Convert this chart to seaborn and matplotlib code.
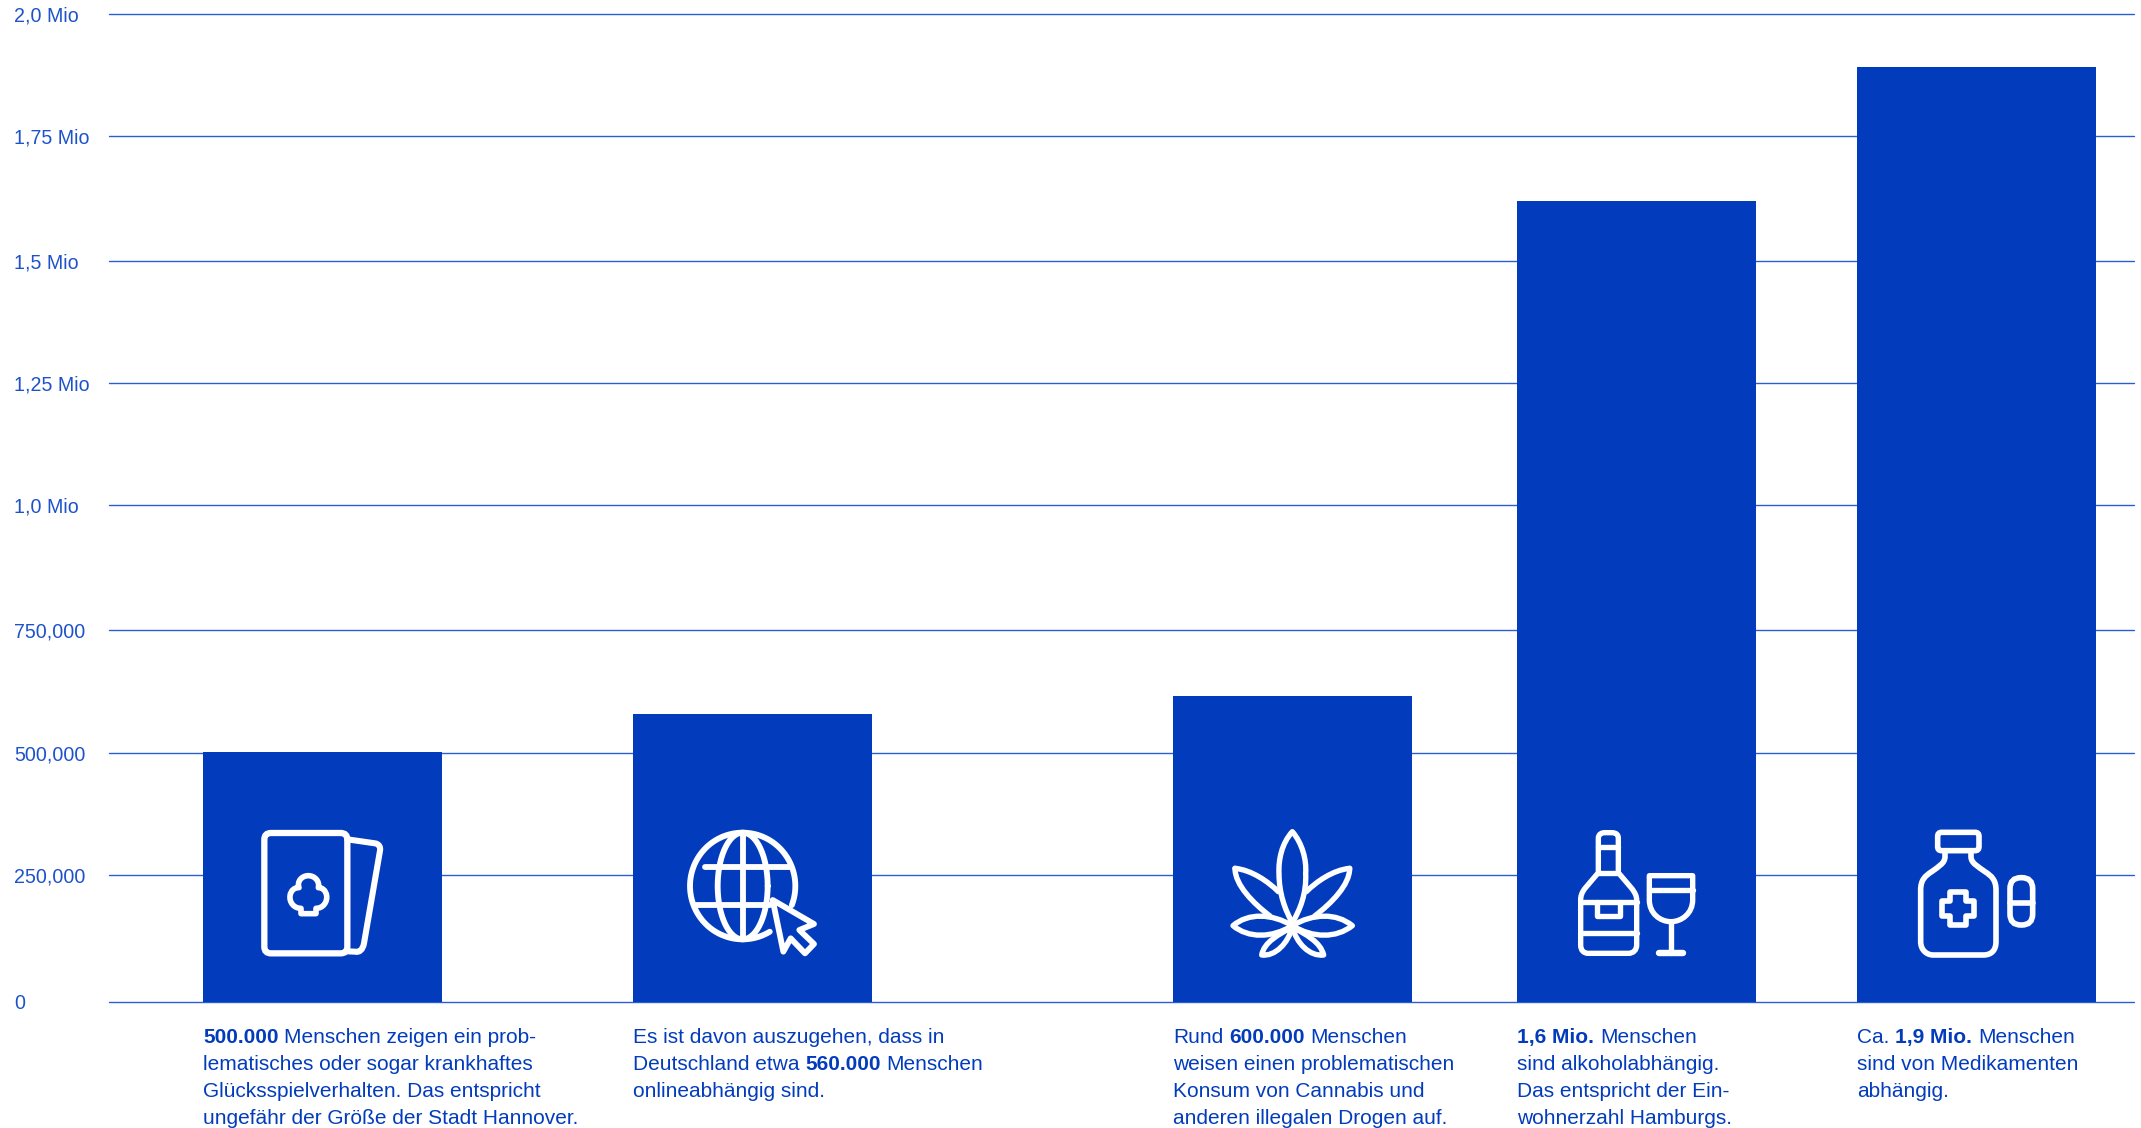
import re
import numpy as np
import matplotlib
matplotlib.use("Agg")
import matplotlib.pyplot as plt
from matplotlib.patches import PathPatch, FancyBboxPatch
from matplotlib.path import Path
import seaborn as sns

# Abhängige Personen in Deutschland, je Suchtform
categories = ["Glücksspiel", "Online", "Cannabis", "Alkohol", "Medikamente"]
values = [505800, 582700, 619000, 1622000, 1894000]

tick_values = [0, 255800, 503700, 753100, 1006200, 1252600, 1500900, 1752900, 2000000]
tick_labels = ["0", "250,000", "500,000", "750,000", "1,0 Mio", "1,25 Mio", "1,5 Mio", "1,75 Mio", "2,0 Mio"]

captions = [
    ["**500.000** Menschen zeigen ein prob-", "lematisches oder sogar krankhaftes",
     "Glücksspielverhalten. Das entspricht", "ungefähr der Größe der Stadt Hannover."],
    ["Es ist davon auszugehen, dass in", "Deutschland etwa **560.000** Menschen", "onlineabhängig sind."],
    ["Rund **600.000** Menschen", "weisen einen problematischen", "Konsum von Cannabis und",
     "anderen illegalen Drogen auf."],
    ["**1,6 Mio.** Menschen", "sind alkoholabhängig.", "Das entspricht der Ein-", "wohnerzahl Hamburgs."],
    ["Ca. **1,9 Mio.** Menschen", "sind von Medikamenten", "abhängig."],
]

# Layout in Pixeln der Ausgabedatei
FIG_W, FIG_H = 2141, 1128
AX_LEFT, AX_RIGHT, AX_TOP, AX_BOTTOM = 109, 2134, 14.3, 1001.7
bar_centres = [322.5, 752.5, 1292.5, 1636.8, 1976.8]
BAR_WIDTH = 239
BLUE = "#023cbd"
GRID = "#2a5cd2"
TICK_COLOR = "#1d52cb"
FONT = "Liberation Sans"
STROKE = 0.84  # Punkt je Pixel-Einheit der Piktogrammlinien

sns.set_theme(style="white")
plt.rcParams["font.family"] = [FONT, "DejaVu Sans"]

fig = plt.figure(figsize=(FIG_W / 100, FIG_H / 100), dpi=100, facecolor="white")
ax = fig.add_axes([AX_LEFT / FIG_W, 1 - AX_BOTTOM / FIG_H,
                   (AX_RIGHT - AX_LEFT) / FIG_W, (AX_BOTTOM - AX_TOP) / FIG_H])

sns.barplot(x=bar_centres, y=values, native_scale=True, color=BLUE, saturation=1, linewidth=0,
            width=BAR_WIDTH / np.diff(bar_centres).min(), ax=ax, zorder=3)
ax.set_xlim(AX_LEFT, AX_RIGHT)
ax.set_ylim(0, 2000000)
ax.set_xticks([])
ax.set_yticks(tick_values)
ax.set_yticklabels(tick_labels, ha="left", fontsize=14.1, color=TICK_COLOR)
ax.tick_params(axis="y", length=0, pad=68.4)
ax.grid(axis="y", color=GRID, linewidth=1.0)
ax.set_axisbelow(True)
for line in ax.get_ygridlines():
    line.set_clip_on(False)
sns.despine(ax=ax, left=True, bottom=True)
ax.patch.set_alpha(0)

# Overlay in Pixelkoordinaten für Piktogramme und Bildunterschriften
ov = fig.add_axes([0, 0, 1, 1], facecolor="none")
ov.set_xlim(0, FIG_W)
ov.set_ylim(FIG_H, 0)
ov.axis("off")

M, L, C, Z = Path.MOVETO, Path.LINETO, Path.CURVE4, Path.CLOSEPOLY


def svg(ox, oy, d, lw=5.0, fill="none"):
    """Zeichnet einen Pfad aus M/L/C/Z-Befehlen; Einheiten sind Drittelpixel ab (ox, oy)."""
    verts, codes = [], []
    for cmd, pts in re.findall(r"([MLCZ])([^MLCZ]*)", d):
        nums = [float(n) for n in re.findall(r"-?\d+\.?\d*", pts)]
        xy = [(ox + nums[i] / 3, oy + nums[i + 1] / 3) for i in range(0, len(nums), 2)]
        if cmd == "Z":
            verts.append(verts[-1])
            codes.append(Z)
        else:
            verts.extend(xy)
            codes.extend({"M": [M], "L": [L] * len(xy), "C": [C] * len(xy)}[cmd] if cmd != "M" else [M])
    ov.add_patch(PathPatch(Path(verts, codes), facecolor=fill, edgecolor="white",
                           lw=lw * STROKE, joinstyle="round", capstyle="round", zorder=5))


def rrect(ox, oy, x0, y0, x1, y1, r, lw=5.0):
    ov.add_patch(FancyBboxPatch((ox + (x0 + r) / 3, oy + (y0 + r) / 3), (x1 - x0 - 2 * r) / 3, (y1 - y0 - 2 * r) / 3,
                                boxstyle=f"round,pad={r / 3},rounding_size={r / 3}",
                                facecolor="none", edgecolor="white", lw=lw * STROKE, zorder=5))


def ellipse_arc(ox, oy, cx, cy, rx, ry, t0, t1, lw=5.0):
    t = np.radians(np.linspace(t0, t1, 200))
    ov.plot(ox + (cx + rx * np.cos(t)) / 3, oy + (cy + ry * np.sin(t)) / 3, color="white",
            lw=lw * STROKE, solid_capstyle="round", zorder=5)


def icon_cards(ox, oy):
    svg(ox, oy, "M322 88 L405 100 C418 102 422 112 420 122 L372 400 C368 420 358 428 345 425 L322 424", 5.2)
    rrect(ox, oy, 73, 69, 322, 430, 20, 5.4)
    svg(ox, oy, "M183 295 L183 311 L228 311 L228 295 C250 295 262 275 260 258 C258 240 245 232 235 233 "
                "C240 215 225 197 205 197 C185 197 170 215 177 233 C165 232 152 240 150 258 C148 275 160 295 183 295 Z", 4.8)


def icon_globe(ox, oy):
    ellipse_arc(ox, oy, 218, 228, 158, 160, 59, 381)
    ellipse_arc(ox, oy, 218, 228, 75, 160, 0, 360)
    svg(ox, oy, "M218 68 L218 388")
    svg(ox, oy, "M104 170 L360 170")
    svg(ox, oy, "M74 286 L300 286")
    svg(ox, oy, "M308 270 L432 342 L388 360 L432 402 L405 430 L362 385 L340 425 Z", 5.0, fill=BLUE)


def icon_leaf(ox, oy):
    lw = 4.6
    svg(ox, oy, "M60 175 C110 180 160 215 190 245", lw)
    svg(ox, oy, "M60 175 C60 225 115 280 165 318", lw)
    svg(ox, oy, "M404 175 C354 180 304 215 274 245", lw)
    svg(ox, oy, "M404 175 C404 225 349 280 299 318", lw)
    svg(ox, oy, "M232 65 C200 100 190 150 192 190 C192 250 210 300 232 338 "
                "C255 300 275 250 272 190 C275 150 262 100 232 65 Z", lw)
    svg(ox, oy, "M54 347 C100 308 170 310 232 347 C170 385 100 385 54 347 Z", lw)
    svg(ox, oy, "M412 347 C364 308 294 310 232 347 C294 385 364 385 412 347 Z", lw)
    svg(ox, oy, "M232 350 C190 375 148 395 140 435 C180 440 220 400 232 350 Z", lw)
    svg(ox, oy, "M232 350 C274 375 316 395 326 435 C284 440 244 400 232 350 Z", lw)


def icon_drinks(ox, oy):
    lw = 4.6
    svg(ox, oy, "M115 188 L115 85 C115 72 125 68 135 68 L155 68 C170 68 175 75 175 85 L175 188 L215 235 "
                "C225 248 230 258 230 270 L230 405 C230 420 220 430 205 430 L85 430 C70 430 62 420 62 405 "
                "L62 270 C62 258 65 248 75 235 Z", lw)
    svg(ox, oy, "M115 110 L175 110", lw)
    svg(ox, oy, "M115 188 L175 188", lw)
    svg(ox, oy, "M62 275 L230 275", lw)
    svg(ox, oy, "M62 368 L230 368", lw)
    svg(ox, oy, "M112 275 L112 318 L180 318 L180 275", lw)
    svg(ox, oy, "M268 197 L398 197 L398 270 C398 310 365 335 333 335 C300 335 268 310 268 270 Z", lw)
    svg(ox, oy, "M268 240 L398 240", lw)
    svg(ox, oy, "M333 335 L333 428", lw)
    svg(ox, oy, "M298 430 L368 430", 5.5)


def icon_pills(ox, oy):
    lw = 4.8
    rrect(ox, oy, 98, 67, 222, 122, 12, lw)
    svg(ox, oy, "M120 122 L120 140 C120 160 100 170 80 185 C60 198 47 210 47 240 L47 395 C47 420 65 435 85 435 "
                "L235 435 C260 435 273 420 273 395 L273 240 C273 210 260 198 240 185 C220 170 198 160 198 140 L198 122", lw)
    svg(ox, oy, "M136 247 L182 247 L182 274 L208 274 L208 318 L182 318 L182 345 L136 345 L136 318 L110 318 "
                "L110 274 L136 274 Z", lw)
    rrect(ox, oy, 315, 203, 383, 345, 33, lw)
    svg(ox, oy, "M315 278 L383 278", lw)


icon_cards(240, 810)
icon_globe(670, 810)
icon_leaf(1215, 810)
icon_drinks(1560, 810)
icon_pills(1905, 810)

# Bildunterschriften mit fett gesetzten Zahlen, zeilenweise aus Textläufen zusammengesetzt
renderer = fig.canvas.get_renderer()
TEXT_SIZE = 15.0
LINE_GAP = 26.9
FIRST_BASELINE = 1043


def text_width(s, weight):
    probe = ov.text(0, 0, s, fontsize=TEXT_SIZE, fontweight=weight)
    w = probe.get_window_extent(renderer).width
    probe.remove()
    return w


space_w = text_width("a a", "normal") - text_width("aa", "normal")

for centre, lines in zip(bar_centres, captions):
    left = centre - BAR_WIDTH / 2
    for i, line in enumerate(lines):
        x = left
        y = FIRST_BASELINE + i * LINE_GAP
        for j, run in enumerate(re.split(r"\*\*", line)):
            if not run:
                continue
            weight = "bold" if j % 2 else "normal"
            lead = len(run) - len(run.lstrip())
            trail = len(run) - len(run.rstrip())
            x += lead * space_w
            piece = run.strip()
            ov.text(x, y, piece, fontsize=TEXT_SIZE, fontweight=weight, color=BLUE, ha="left", va="baseline")
            x += text_width(piece, weight) + trail * space_w

fig.savefig("out.png", dpi=100, facecolor="white")
